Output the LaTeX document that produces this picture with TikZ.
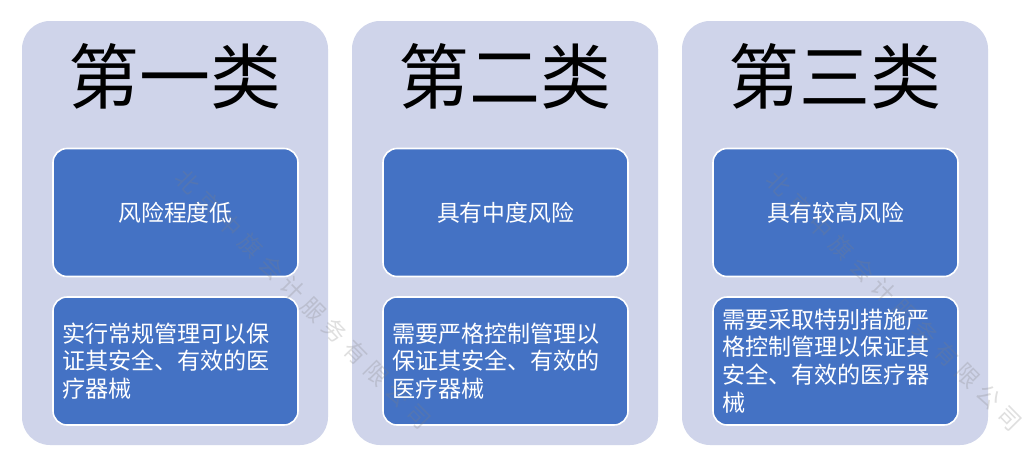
\documentclass[tikz,border=0pt]{standalone}
\usepackage{fontspec}
\setmainfont{Noto Sans CJK SC}
\newfontfamily\cjk{Noto Sans CJK SC}
\usetikzlibrary{positioning}
\definecolor{panelfill}{HTML}{CFD4EA}
\definecolor{boxblue}{HTML}{4472C4}
\tikzset{
  panel/.style={fill=panelfill, draw=none, rounded corners=28pt, minimum width=306pt, minimum height=424pt, inner sep=0pt},
  title/.style={font=\cjk\fontsize{71}{74}\selectfont, text=black, inner sep=0pt},
  bluebox/.style={fill=boxblue, draw=white, line width=1.6pt, rounded corners=14pt, minimum width=245pt, minimum height=128pt, inner sep=0pt},
  toptext/.style={font=\cjk\fontsize{22.8}{27}\selectfont, text=white, inner sep=0pt},
  bottext/.style={font=\cjk\fontsize{23.1}{27.8}\selectfont, text=white, align=left, text width=227pt, inner sep=0pt},
  wmark/.style={font=\cjk\fontsize{23}{25}\selectfont\addfontfeature{LetterSpace=30}, text=gray, opacity=0.25, rotate=-45.4, inner sep=0pt}
}
\begin{document}
\begin{tikzpicture}[x=1pt,y=-1pt]
\useasboundingbox (0,0) rectangle (1024,471);
\fill[white] (0,0) rectangle (1024,471);
% panels
\node[panel] (p1) at (175,233) {};
\node[panel] (p2) at (505,233) {};
\node[panel] (p3) at (835,233) {};
% titles
\node[title] (t1) at (175,76) {第一类};
\node[title] (t2) at (505,76) {第二类};
\node[title] (t3) at (835,76) {第三类};
% top boxes
\node[bluebox] (a1) at (175.5,212.5) {};
\node[bluebox] (a2) at (505.5,212.5) {};
\node[bluebox] (a3) at (835.5,212.5) {};
% bottom boxes
\node[bluebox] (b1) at (175.5,361) {};
\node[bluebox] (b2) at (505.5,361) {};
\node[bluebox] (b3) at (835.5,361) {};
% watermarks
\node[wmark] (w1) at (303,299) {北京中旗会计服务有限公司};
\node[wmark] (w2) at (894,301) {北京中旗会计服务有限公司};
% box texts
\node[toptext] (la1) at (a1.center) {风险程度低};
\node[toptext] (la2) at (a2.center) {具有中度风险};
\node[toptext] (la3) at (a3.center) {具有较高风险};
\node[bottext] (lb1) at (b1.center) {实行常规管理可以保\\证其安全、有效的医\\疗器械};
\node[bottext] (lb2) at (b2.center) {需要严格控制管理以\\保证其安全、有效的\\医疗器械};
\node[bottext] (lb3) at (b3.center) {需要采取特别措施严\\格控制管理以保证其\\安全、有效的医疗器\\械};
\end{tikzpicture}
\end{document}
